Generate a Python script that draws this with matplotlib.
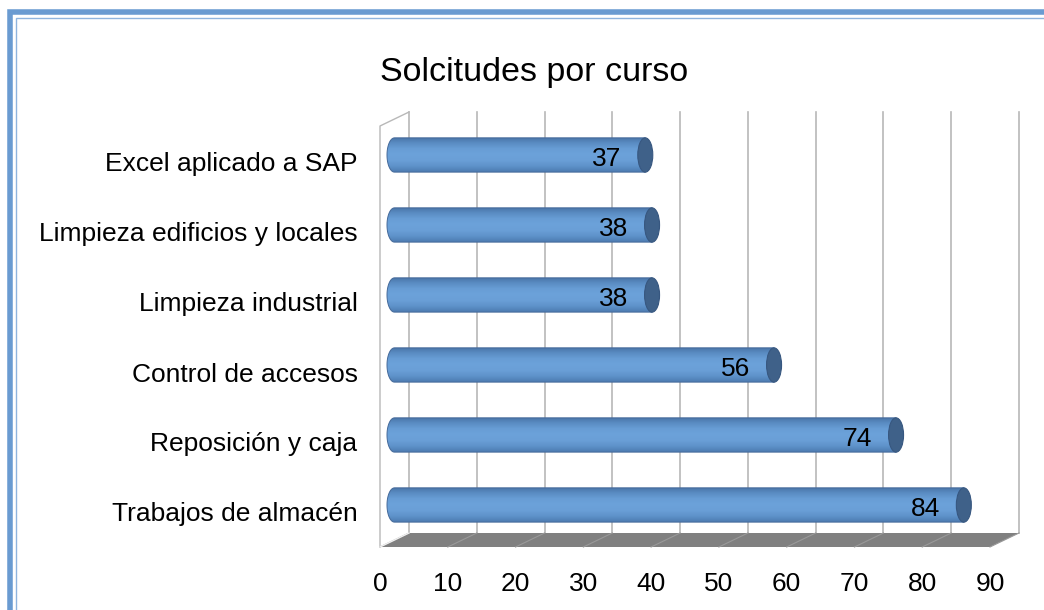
import numpy as np
import matplotlib
matplotlib.use('Agg')
import matplotlib.pyplot as plt
from matplotlib.patches import Polygon, Ellipse, PathPatch, Rectangle
from matplotlib.path import Path
from matplotlib.colors import LinearSegmentedColormap

plt.rcParams['font.family'] = ['Liberation Sans', 'DejaVu Sans']

# data (top to bottom in the picture)
cursos = ["Excel aplicado a SAP", "Limpieza edificios y locales", "Limpieza industrial",
          "Control de accesos", "Reposición y caja", "Trabajos de almacén"]
solicitudes = [37, 38, 38, 56, 74, 84]
xticks = list(range(0, 100, 10))
titulo = "Solcitudes por curso"

# plot bottom-up
cursos_plot = cursos[::-1]
vals_plot = solicitudes[::-1]

W, H = 1044, 610
fig = plt.figure(figsize=(W / 100, H / 100), dpi=100)

# outer frame (double blue line, cut off at right/bottom)
fig.patches.append(Rectangle((10 / W, -0.1), 1.2, 1 - 12 / H + 0.1, transform=fig.transFigure,
                             fill=False, ec='#6a9bd1', lw=4, zorder=0))
fig.patches.append(Rectangle((16 / W, -0.1), 1.2, 1 - 18 / H + 0.1, transform=fig.transFigure,
                             fill=False, ec='#8fb4de', lw=1, zorder=0))

# axes placed so that 0 -> x=380px, 90 -> x=990px (front plane), rows 70px apart
px_per_unit = 610 / 90.0
ax = fig.add_axes([370 / W, 1 - 555 / H, 660 / W, 445 / H])
xl = ((370 - 380) / px_per_unit, (1030 - 380) / px_per_unit)
yl = ((505 - 555) / 70.0, (505 - 110) / 70.0)

dx = 29 / px_per_unit       # depth offset, x
dy = 14 / 70.0              # depth offset, y
y_front = -0.6
y_back = y_front + dy
top_front = (505 - 126) / 70.0
top_back = top_front + dy
xmax = 90

grid_c = '#b8b8b8'
# back wall gridlines
for t in xticks:
    ax.plot([t + dx, t + dx], [y_back, top_back], color=grid_c, lw=1.2, zorder=1)
# left wall edges
ax.plot([0, 0, dx], [y_front, top_front, top_back], color=grid_c, lw=1, zorder=1)

# floor
floor = Polygon([(0, y_front), (xmax, y_front), (xmax + dx, y_back), (dx, y_back)],
                closed=True, fc='#808080', ec='none', zorder=2)
ax.add_patch(floor)
for t in xticks:
    ax.plot([t, t + dx], [y_front, y_back], color='#999999', lw=0.8, zorder=2)
ax.plot([0, dx], [y_front, y_back], color='#f0f0f0', lw=1, zorder=2)

# cylinders
cmap = LinearSegmentedColormap.from_list('cyl', ['#4d7bb0', '#5e92ca', '#6a9fd7', '#6ca2da',
                                                  '#689dd5', '#5a8cc3', '#4873a5'])
grad = np.linspace(0, 1, 128).reshape(-1, 1)
h = 0.49
cap_w = 15 / px_per_unit
xm = dx / 2
for i, v in enumerate(vals_plot):
    x0, x1 = xm, v + xm
    yb, yt = i - h / 2, i + h / 2
    th = np.linspace(-np.pi / 2, -3 * np.pi / 2, 30)
    arc = np.column_stack([x0 + cap_w / 2 * np.cos(th), i + h / 2 * np.sin(th)])
    verts = np.vstack([[x1, yb], arc, [x1, yt], [x1, yb]])
    body = PathPatch(Path(verts, closed=True), fc='none', ec='#44699a', lw=0.7, zorder=4)
    ax.add_patch(body)
    im = ax.imshow(grad, cmap=cmap, extent=[x0 - cap_w, x1, yt, yb], aspect='auto',
                   origin='upper', zorder=3, interpolation='bilinear')
    im.set_clip_path(body)
    ax.add_patch(Ellipse((x1, i), cap_w, h, fc='#3f6189', ec='#375780', lw=0.8, zorder=5))
    ax.text(x1 - 24 / px_per_unit, i - 0.05, str(v), ha='right', va='center',
            fontsize=19, color='#000000', zorder=6)

ax.set_xlim(*xl)
ax.set_ylim(*yl)
ax.set_xticks(xticks)
ax.set_xticklabels([str(t) for t in xticks], fontsize=19)
ax.set_yticks([i - 0.1 for i in range(len(cursos_plot))])
ax.set_yticklabels(cursos_plot, fontsize=19)
ax.tick_params(axis='x', length=0, pad=12)
ax.tick_params(axis='y', length=0, pad=9)
for s in ax.spines.values():
    s.set_visible(False)
ax.patch.set_visible(False)

fig.text(534 / W, 1 - 72 / H, titulo, ha='center', va='center', fontsize=24.5)

fig.savefig('out.png', dpi=100)
